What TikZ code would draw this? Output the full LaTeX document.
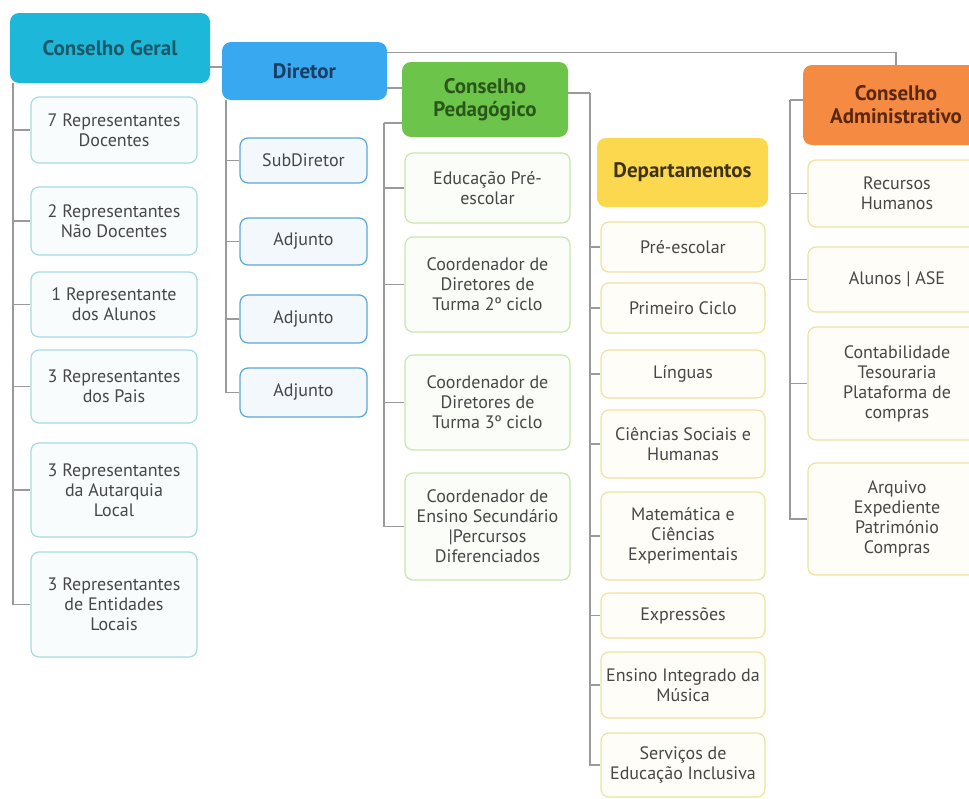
\documentclass[tikz,border=0pt]{standalone}
\usepackage{fontspec}
\setmainfont{PT Sans}
\definecolor{cgblue}{HTML}{1DB8D9}
\definecolor{cgtxt}{HTML}{1D5868}
\definecolor{dirblue}{HTML}{38A8F0}
\definecolor{dirtxt}{HTML}{1C3C62}
\definecolor{cpgreen}{HTML}{6CC44B}
\definecolor{cptxt}{HTML}{2A5719}
\definecolor{depyellow}{HTML}{FCD84F}
\definecolor{deptxt}{HTML}{3E3314}
\definecolor{caorange}{HTML}{F58A42}
\definecolor{catxt}{HTML}{5A2812}
\definecolor{cgline}{HTML}{A6DBE2}
\definecolor{dirline}{HTML}{5AA6DA}
\definecolor{cpline}{HTML}{CBE5AE}
\definecolor{depline}{HTML}{F1E1A0}
\definecolor{lnk}{HTML}{9A9A9A}
\definecolor{txt}{HTML}{474747}

\begin{document}
\begin{tikzpicture}[x=1pt,y=-1pt,
  head/.style args={#1/#2}{fill=#1, text=#2, rounded corners=9pt, font=\fontsize{21}{23}\selectfont\bfseries, align=center, inner sep=2pt},
  item/.style={draw=#1, fill=#1!8, line width=1.2pt, rounded corners=8pt, text=txt, font=\fontsize{18}{20}\selectfont, align=center, inner sep=1pt},
  link/.style={draw=lnk, line width=1.3pt}]
\clip (0,0) rectangle (969,798);

% Heads
\node[head=cgblue/cgtxt, minimum width=200pt, minimum height=70pt] (cg) at (110,48) {Conselho Geral};
\node[head=dirblue/dirtxt, minimum width=165pt, minimum height=58pt] (dir) at (304.5,71) {Diretor};
\node[head=cpgreen/cptxt, minimum width=166pt, minimum height=75pt] (cp) at (485,99.5) {Conselho\\Pedagógico};
\node[head=depyellow/deptxt, minimum width=171pt, minimum height=69pt] (dep) at (682.5,172.5) {Departamentos};
\node[head=caorange/catxt, minimum width=186pt, minimum height=80pt] (ca) at (896,105) {Conselho\\Administrativo};

% Conselho Geral
\foreach \i/\y/\h/\t in {1/130/66/{7 Representantes\\Docentes}, 2/221/68/{2 Representantes\\Não Docentes},
    3/304.5/65/{1 Representante\\dos Alunos}, 4/386.5/73/{3 Representantes\\dos Pais},
    5/490/94/{3 Representantes\\da Autarquia\\Local}, 6/604.5/105/{3 Representantes\\de Entidades\\Locais}} {
    \node[item=cgline, minimum width=166pt, minimum height=\h pt] (cg\i) at (114,\y) {\t};
}

% Diretor
\foreach \i/\y/\h/\t in {1/160.5/45/SubDiretor, 2/241.5/47/Adjunto, 3/319/48/Adjunto, 4/392.5/49/Adjunto} {
    \node[item=dirline, minimum width=127pt, minimum height=\h pt] (dir\i) at (303.5,\y) {\t};
}

% Conselho Pedagogico
\foreach \i/\y/\h/\t in {1/188/70/{Educação Pré-\\escolar}, 2/284.5/95/{Coordenador de\\Diretores de\\Turma 2º ciclo},
    3/402.5/95/{Coordenador de\\Diretores de\\Turma 3º ciclo},
    4/526.5/107/{Coordenador de\\Ensino Secundário\\|Percursos\\Diferenciados}} {
    \node[item=cpline, minimum width=165pt, minimum height=\h pt] (cp\i) at (487.5,\y) {\t};
}

% Departamentos
\foreach \i/\y/\h/\t in {1/247/50/Pré-escolar, 2/308/50/Primeiro Ciclo, 3/374/48/Línguas,
    4/444/68/{Ciências Sociais e\\Humanas}, 5/536/88/{Matemática e\\Ciências\\Experimentais},
    6/615.5/45/Expressões, 7/685/66/{Ensino Integrado da\\Música}, 8/765/64/{Serviços de\\Educação Inclusiva}} {
    \node[item=depline, minimum width=164pt, minimum height=\h pt] (dep\i) at (683,\y) {\t};
}

% Conselho Administrativo
\foreach \i/\y/\h/\t in {1/193.5/67/{Recursos\\Humanos}, 2/279.5/65/{Alunos | ASE},
    3/383.5/113/{Contabilidade\\Tesouraria\\Plataforma de\\compras}, 4/519/112/{Arquivo\\Expediente\\Património\\Compras}} {
    \node[item=depline, minimum width=178pt, minimum height=\h pt] (ca\i) at (897,\y) {\t};
}

% Links between heads
\draw[link] ([yshift=-19pt]cg.east) -- ([yshift=4pt]dir.west);
\draw[link] ([yshift=-17pt]dir.east) -- ([yshift=11.5pt]cp.west);
\draw[link] ([yshift=-11pt]dir.north east) -| (ca.north);

% Trunks
\coordinate (cgT) at (13,83);
\coordinate (dirT) at (226,100);
\coordinate (cpT) at (384,123);
\coordinate (depT) at (590,93);
\coordinate (caT) at (790,100);
\draw[link] (cp.west |- cpT) -- (cpT);
\draw[link] (cp.east |- depT) -- (depT);
\draw[link] (ca.west |- caT) -- (caT);
\foreach \i in {1,...,6} { \draw[link] (cgT) |- (cg\i.west); }
\foreach \i in {1,...,4} { \draw[link] (dirT) |- (dir\i.west); }
\foreach \i in {1,...,4} { \draw[link] (cpT) |- (cp\i.west); }
\foreach \i in {1,...,8} { \draw[link] (depT) |- (dep\i.west); }
\foreach \i in {1,...,4} { \draw[link] (caT) |- (ca\i.west); }
\end{tikzpicture}
\end{document}
